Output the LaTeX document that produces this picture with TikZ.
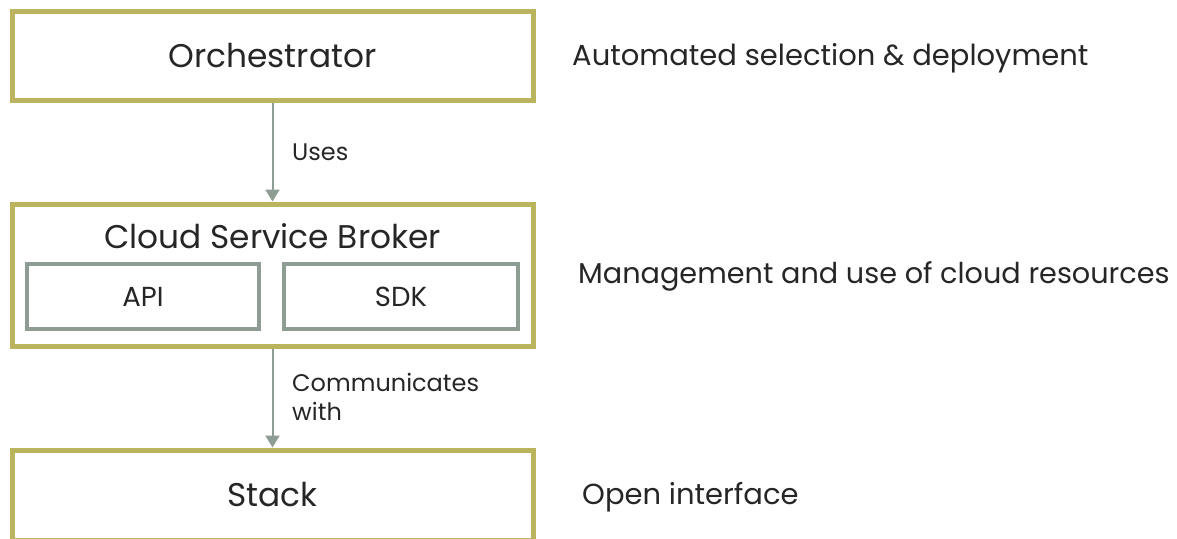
\documentclass[tikz,border=0pt]{standalone}
\usepackage{fontspec}
\setmainfont{Poppins}
\usetikzlibrary{arrows.meta}
\definecolor{olive}{HTML}{BAB45E}
\definecolor{sage}{HTML}{8E9D94}
\definecolor{ink}{HTML}{262626}
\tikzset{
  outerbox/.style={draw=olive, line width=5pt, fill=white, minimum width=521pt, inner sep=0pt},
  innerbox/.style={draw=sage, line width=4.5pt, fill=white, minimum height=65pt, inner sep=0pt,
    font=\fontsize{27.5}{32}\selectfont, text=ink},
  boxtext/.style={font=\fontsize{32.8}{38}\selectfont, text=ink, inner sep=0pt},
  sidetext/.style={font=\fontsize{29}{34}\selectfont, text=ink, anchor=west, inner sep=0pt},
  edgetext/.style={font=\fontsize{24}{29}\selectfont, text=ink, anchor=west, align=left, inner sep=0pt},
  conn/.style={draw=sage, line width=2pt, -{Triangle[width=14pt, length=12pt]}}
}
\begin{document}
\begin{tikzpicture}[x=1pt, y=-1pt]
\useasboundingbox (0,0) rectangle (1177,538);
\clip (0,0) rectangle (1177,538);

% layers
\node[outerbox, minimum height=89pt, boxtext] (orch) at (272.5,55.5) {Orchestrator};
\node[outerbox, minimum height=142pt] (csb) at (272.5,275) {};
\node[boxtext] (csbtitle) at (272.5,236) {Cloud Service Broker};
\node[innerbox, minimum width=232pt] (api) at (143,296.5) {API};
\node[innerbox, minimum width=234pt] (sdk) at (401,296.5) {SDK};
\node[outerbox, minimum height=90pt, boxtext] (stack) at (272.5,495) {Stack};

% connectors
\draw[conn] (orch.south) -- (csb.north);
\draw[conn] (csb.south) -- (stack.north);
\node[edgetext] (uses) at (292,152) {Uses};
\node[edgetext] (comm) at (292,397) {Communicates\\with};

% descriptions
\node[sidetext] (d1) at (572,58) {Automated selection \& deployment};
\node[sidetext, font=\fontsize{28.7}{34}\selectfont] (d2) at (578,276) {Management and use of cloud resources};
\node[sidetext] (d3) at (582,497) {Open interface};
\end{tikzpicture}
\end{document}
